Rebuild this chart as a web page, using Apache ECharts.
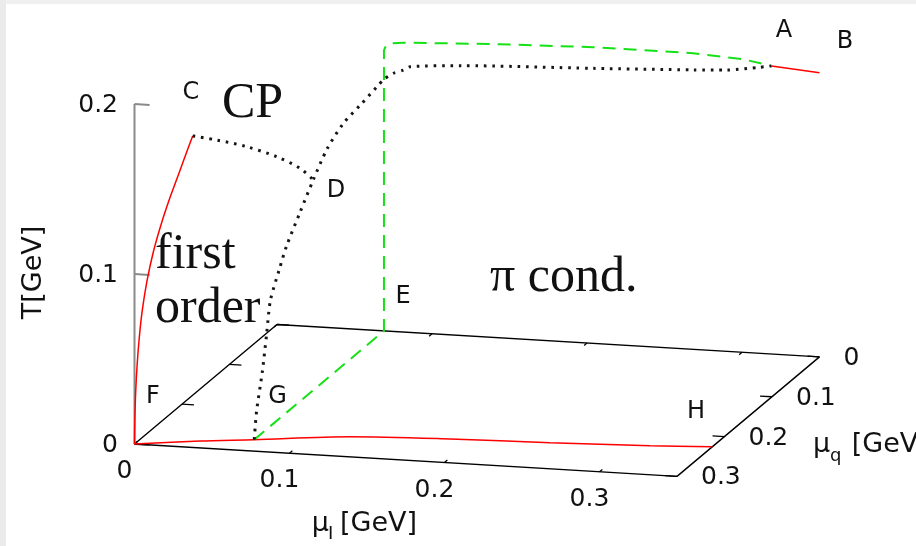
<!DOCTYPE html>
<html><head><meta charset="utf-8">
<script src="https://cdn.jsdelivr.net/npm/echarts@6/dist/echarts.min.js"></script>
<style>html,body{margin:0;padding:0;background:#fff;overflow:hidden}#chart{width:916px;height:546px}</style>
</head><body><div id="chart"></div>
<script>
// ---------------- data (μI, μq, T in GeV) ----------------
const muIRange = [0, 0.35];
const muqRange = [0, 0.3];
const TRange = [0, 0.2];
const muITicks = [0, 0.1, 0.2, 0.3];
const muqTicks = [0, 0.1, 0.2, 0.3];
const TTicks = [0, 0.1, 0.2];
const muITickLabels = ['0', '0.1', '0.2', '0.3'];
const muqTickLabels = ['0', '0.1', '0.2', '0.3'];
const TTickLabels = ['0', '0.1', '0.2'];

// first-order line in the μI = 0 plane (F – C)
const foMuq = [0.300, 0.2992, 0.2975, 0.2945, 0.290, 0.2835, 0.2735, 0.2600, 0.2440, 0.2260, 0.2070, 0.1901, 0.1775];
const foT   = [0.000, 0.0150, 0.0300, 0.0450, 0.060, 0.0750, 0.0900, 0.1040, 0.1160, 0.1270, 0.1370, 0.1460, 0.1525];

// first-order line on the T = 0 floor (F – G – H)
const flMuI = [0.000, 0.0373, 0.069, 0.1245, 0.1865, 0.2493, 0.3117, 0.350];
const flMuq = [0.300, 0.2838, 0.273, 0.2528, 0.2441, 0.2388, 0.2318, 0.2255];

// critical line (C – D)
const cpMuI = [0.000, 0.0137, 0.0313, 0.0489, 0.0622, 0.069];
const cpMuq = [0.1775, 0.1717, 0.166, 0.1602, 0.1545, 0.1487];
const cpT   = [0.1525, 0.1495, 0.1452, 0.1389, 0.1315, 0.1236];

// chiral crossover (G – D – A)
const chMuI = [0.069, 0.069, 0.069, 0.069, 0.069, 0.069, 0.069, 0.069, 0.069, 0.069, 0.069, 0.069, 0.069, 0.069,
               0.075, 0.0815, 0.0858, 0.1181, 0.2041, 0.2686, 0.2901, 0.3116, 0.319];
const chMuq = [0.273, 0.268, 0.256, 0.247, 0.239, 0.220, 0.205, 0.177, 0.149, 0.120, 0.086, 0.050, 0.015, 0.000,
               0, 0, 0, 0, 0, 0, 0, 0, 0];
const chT   = [0.000, 0.016, 0.036, 0.056, 0.074, 0.088, 0.098, 0.111, 0.1236, 0.135, 0.142, 0.1445, 0.147, 0.148,
               0.1518, 0.1541, 0.1563, 0.1587, 0.1618, 0.1644, 0.1655, 0.1683, 0.1695];

// pion condensation boundary (G – E – A)
const piMuI = [0.069, 0.069, 0.069, 0.0703, 0.074, 0.0815, 0.1394, 0.2039, 0.2684, 0.3006, 0.319];
const piMuq = [0.273, 0.000, 0, 0, 0, 0, 0, 0, 0, 0, 0];
const piT   = [0.000, 0.000, 0.165, 0.1678, 0.1694, 0.1702, 0.1726, 0.1742, 0.1742, 0.1724, 0.1695];

// first-order line at μq = 0 (A – B)
const abMuI = [0.319, 0.350];
const abMuq = [0, 0];
const abT   = [0.1695, 0.1672];

// point labels
const pointNames = ['A', 'B', 'C', 'D', 'E', 'F', 'G', 'H'];

// ---------------- view (oblique projection, layout only) ----------------
const VIEW = { o: [277, 324.5], eI: [1550, 92.6], eq: [-475, 398.3], eT: [0, -1700] };
function proj(a, b, c) {
  return [VIEW.o[0] + a * VIEW.eI[0] + b * VIEW.eq[0] + c * VIEW.eT[0],
          VIEW.o[1] + a * VIEW.eI[1] + b * VIEW.eq[1] + c * VIEW.eT[1]];
}
const pts = (xs, ys, zs) => xs.map((_, i) => proj(xs[i], ys[i], zs[i]));
const zeros = n => new Array(n).fill(0);

const RED = '#ff0000', GREEN = '#16e016', DOT = '#151515';
const SANS = '"DejaVu Sans", sans-serif', SERIF = '"Liberation Serif", serif';

function curve(data, color, width, type, smooth, cap) {
  return { type: 'line', data, showSymbol: false, symbol: 'none', smooth: smooth || false, silent: true,
    lineStyle: { color, width, type, cap: cap || 'butt' }, z: 3 };
}

// box
const I0 = muIRange[0], I1 = muIRange[1], Q0 = muqRange[0], Q1 = muqRange[1];
const boxData = pts([I0, I1, I1, I0, I0], [Q0, Q0, Q1, Q1, Q0], zeros(5));

// ticks
const tickSeg = [];
const tI = 0.02 * (Q1 - Q0), tQ = 0.022 * (I1 - I0), tT = 0.0097;
muITicks.forEach(v => {
  tickSeg.push({ coords: [proj(v, Q1, 0), proj(v, Q1 - tI, 0)] });
  tickSeg.push({ coords: [proj(v, Q0, 0), proj(v, Q0 + tI, 0)] });
});
muqTicks.forEach(v => {
  tickSeg.push({ coords: [proj(I0, v, 0), proj(I0 + tQ, v, 0)] });
  tickSeg.push({ coords: [proj(I1, v, 0), proj(I1 - tQ, v, 0)] });
});
const Tseg = TTicks.map(v => ({ coords: [proj(I0, Q1, v), proj(I0 + tT, Q1, v)] }));
const Taxis = [proj(I0, Q1, TRange[0]), proj(I0, Q1, TRange[1])];

// texts
const graphics = [
  { type: 'rect', shape: { x: 0, y: 0, width: 916, height: 4 }, style: { fill: '#f0f0f0' }, silent: true },
  { type: 'rect', shape: { x: 0, y: 0, width: 6, height: 546 }, style: { fill: '#ebebeb' }, silent: true }
];
function txt(text, x, y, size, family, align, extra) {
  return Object.assign({ type: 'text', x, y, silent: true, z: 10,
    style: { text, fontSize: size, fontFamily: family, fill: '#111', align: align || 'center', verticalAlign: 'middle' } }, extra || {});
}
TTicks.forEach((v, i) => { const p = proj(I0, Q1, v); graphics.push(txt(TTickLabels[i], p[0] - 16.5, p[1] + 1.5, 25, SANS, 'right')); });
muITicks.forEach((v, i) => { const p = proj(v, Q1, 0); graphics.push(txt(muITickLabels[i], p[0] - 10, p[1] + 27.5, 25, SANS, 'center')); });
muqTicks.forEach((v, i) => { const p = proj(I1, v, 0); graphics.push(txt(muqTickLabels[i], p[0] + 24, p[1] + 1.5, 25, SANS, 'left')); });

// axis titles
graphics.push(txt('T[GeV]', 34, 272.5, 27, SANS, 'center', { rotation: Math.PI / 2 }));
graphics.push(txt('\u03bc', 311.7, 524, 27, SANS, 'left'));
graphics.push(txt('I', 328, 534, 18, SANS, 'left'));
graphics.push(txt('[GeV]', 340, 524, 27, SANS, 'left'));
graphics.push(txt('\u03bc', 813, 444.7, 27, SANS, 'left'));
graphics.push(txt('q', 830, 456, 18, SANS, 'left'));
graphics.push(txt('[GeV]', 851.7, 444.7, 27, SANS, 'left'));

// point letters
const letterPos = { A: [784, 31], B: [845, 42], C: [191, 93], D: [336, 191], E: [403, 297], F: [153, 397], G: [277.5, 397], H: [696, 412] };
pointNames.forEach(n => graphics.push(txt(n, letterPos[n][0], letterPos[n][1], 24, SANS, 'center')));

// annotations
graphics.push(txt('CP', 222, 103.5, 50, SERIF, 'left'));
graphics.push(txt('first', 155, 255, 50, SERIF, 'left'));
graphics.push(txt('order', 155, 308.5, 50, SERIF, 'left'));
graphics.push(txt('\u03c0 cond.', 490, 277.5, 50, SERIF, 'left'));

const chart = echarts.init(document.getElementById('chart'), null, { renderer: 'canvas' });
chart.setOption({
  animation: false,
  backgroundColor: '#ffffff',
  grid: { left: 0, right: 0, top: 0, bottom: 0 },
  xAxis: { type: 'value', min: 0, max: 916, show: false },
  yAxis: { type: 'value', min: 0, max: 546, inverse: true, show: false },
  series: [
    Object.assign(curve(boxData, '#000', 1.4, 'solid'), { z: 2 }),
    { type: 'lines', coordinateSystem: 'cartesian2d', data: tickSeg, silent: true, z: 2,
      lineStyle: { color: '#000', width: 1.3, opacity: 1 } },
    Object.assign(curve(Taxis, '#8a8a8a', 2, 'solid'), { z: 2 }),
    { type: 'lines', coordinateSystem: 'cartesian2d', data: Tseg, silent: true, z: 2,
      lineStyle: { color: '#8a8a8a', width: 2, opacity: 1 } },
    curve(pts(zeros(foMuq.length), foMuq, foT), RED, 1.5, 'solid', 0.4),
    curve(pts(flMuI, flMuq, zeros(flMuI.length)), RED, 1.5, 'solid', 0.3),
    curve(pts(abMuI, abMuq, abT), RED, 1.5, 'solid'),
    curve(pts(piMuI, piMuq, piT), GREEN, 2, [13, 8]),
    curve(pts(cpMuI, cpMuq, cpT), DOT, 3, [2.6, 5.8], 0.3),
    curve(pts(chMuI, chMuq, chT), DOT, 3, [2.6, 5.8], 0.25)
  ],
  graphic: graphics
});
</script>
</body></html>
